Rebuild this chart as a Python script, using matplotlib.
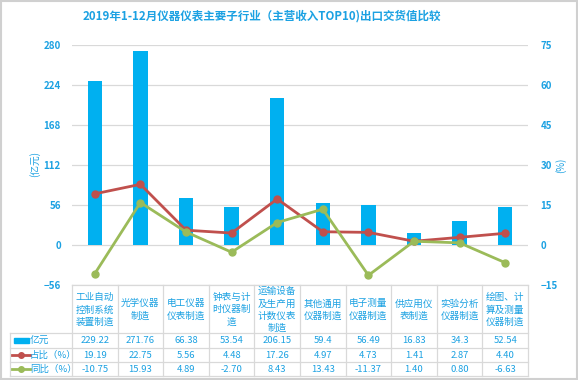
import matplotlib
matplotlib.use("Agg")
import matplotlib.pyplot as plt
from matplotlib.patches import Rectangle

plt.rcParams['font.family'] = ['Noto Sans CJK SC', 'DejaVu Sans']

title = "2019年1-12月仪器仪表主要子行业（主营收入TOP10)出口交货值比较"
categories = ["工业自动\n控制系统\n装置制造", "光学仪器\n制造", "电工仪器\n仪表制造", "钟表与计\n时仪器制\n造",
              "运输设备\n及生产用\n计数仪表\n制造", "其他通用\n仪器制造", "电子测量\n仪器制造", "供应用仪\n表制造",
              "实验分析\n仪器制造", "绘图、计\n算及测量\n仪器制造"]
value_yi = [229.22, 271.76, 66.38, 53.54, 206.15, 59.4, 56.49, 16.83, 34.3, 52.54]
share_pct = [19.19, 22.75, 5.56, 4.48, 17.26, 4.97, 4.73, 1.41, 2.87, 4.40]
yoy_pct = [-10.75, 15.93, 4.89, -2.70, 8.43, 13.43, -11.37, 1.40, 0.80, -6.63]
series_names = ["亿元", "占比（%）", "同比（%）"]
left_ticks = [-56, 0, 56, 112, 168, 224, 280]
right_ticks = [-15, 0, 15, 30, 45, 60, 75]

BLUE = "#00B0F0"
TXT = "#1BA1E2"
RED = "#C0504D"
GREEN = "#9BBB59"
GRID = "#D9D9D9"

W, H = 578, 380
fig = plt.figure(figsize=(W / 100, H / 100), dpi=100)

def fx(px):
    return px / W

def fy(py):
    return 1 - py / H

x0, x1 = 72, 528
ytop, ybot = 45, 285
ax = fig.add_axes([fx(x0), fy(ybot), fx(x1 - x0), (ybot - ytop) / H])
n = len(categories)
xs = list(range(n))
ax.set_xlim(-0.5, n - 0.5)
ax.set_ylim(left_ticks[0], left_ticks[-1])
ax.set_yticks(left_ticks)
ax.bar(xs, value_yi, width=0.32, color=BLUE, zorder=2)
for t in left_ticks:
    ax.axhline(t, color=GRID, lw=0.9, zorder=1)
for s in ax.spines.values():
    s.set_visible(False)
ax.set_xticks([])
ax.tick_params(axis='y', length=0, colors=TXT, labelsize=7, pad=8)
for lab in ax.get_yticklabels():
    lab.set_fontweight('bold')

ax2 = ax.twinx()
ax2.set_ylim(right_ticks[0], right_ticks[-1])
ax2.set_yticks(right_ticks)
ax2.plot(xs, share_pct, color=RED, lw=2, marker='o', ms=5, zorder=3)
ax2.plot(xs, yoy_pct, color=GREEN, lw=2, marker='o', ms=5, zorder=3)
for s in ax2.spines.values():
    s.set_visible(False)
ax2.tick_params(axis='y', length=0, colors=TXT, labelsize=7, pad=9)
for lab in ax2.get_yticklabels():
    lab.set_fontweight('bold')

fig.text(fx(35), fy(164), "(亿元)", rotation=90, ha='center', va='center', color=TXT, fontsize=7)
fig.text(fx(561), fy(165), "(%)", rotation=90, ha='center', va='center', color=TXT, fontsize=7)

fig.text(fx(262), fy(16), title, ha='center', va='center', color=TXT, fontsize=8.3, fontweight='bold')

# table
tax = fig.add_axes([0, 0, 1, 1], facecolor='none')
tax.set_xlim(0, W)
tax.set_ylim(H, 0)
tax.axis('off')
cw = (x1 - x0) / n
rows_y = [285, 333, 348, 362, 376]
tl = 10
lk = dict(color=GRID, lw=0.9)
tax.plot([x0, x1], [rows_y[0], rows_y[0]], **lk)
for yy in rows_y[1:]:
    tax.plot([tl, x1], [yy, yy], **lk)
for i in range(n + 1):
    xx = x0 + i * cw
    tax.plot([xx, xx], [rows_y[0], rows_y[-1]], **lk)
tax.plot([tl, tl], [rows_y[1], rows_y[-1]], **lk)

for i, c in enumerate(categories):
    tax.text(x0 + (i + 0.5) * cw, (rows_y[0] + rows_y[1]) / 2 + 1, c, ha='center', va='center',
             color=TXT, fontsize=6.9, linespacing=1.45)

def fmt_yi(v):
    s = f"{v:.2f}"
    return s.rstrip('0') if s.endswith('0') else s

rows = [[fmt_yi(v) for v in value_yi], [f"{v:.2f}" for v in share_pct], [f"{v:.2f}" for v in yoy_pct]]
for r in range(3):
    yc = (rows_y[r + 1] + rows_y[r + 2]) / 2
    for i, s in enumerate(rows[r]):
        tax.text(x0 + (i + 0.5) * cw, yc, s, ha='center', va='center', color=TXT, fontsize=6.8)

# legend keys
yc0 = (rows_y[1] + rows_y[2]) / 2
tax.add_patch(Rectangle((14, yc0 - 2.5), 15, 5, color=BLUE))
tax.text(30, yc0, series_names[0], ha='left', va='center', color=TXT, fontsize=7)
for k, col in ((1, RED), (2, GREEN)):
    yc = (rows_y[k + 1] + rows_y[k + 2]) / 2
    tax.plot([12, 30], [yc, yc], color=col, lw=2)
    tax.plot([21], [yc], marker='o', color=col, ms=4)
    tax.text(30, yc, series_names[k], ha='left', va='center', color=TXT, fontsize=6.8)

# figure frame
tax.add_patch(Rectangle((0.5, 0.5), W - 1.5, H - 1.5, fill=False, ec="#D0D0D0", lw=1.5))

fig.savefig("out.png", dpi=100)
